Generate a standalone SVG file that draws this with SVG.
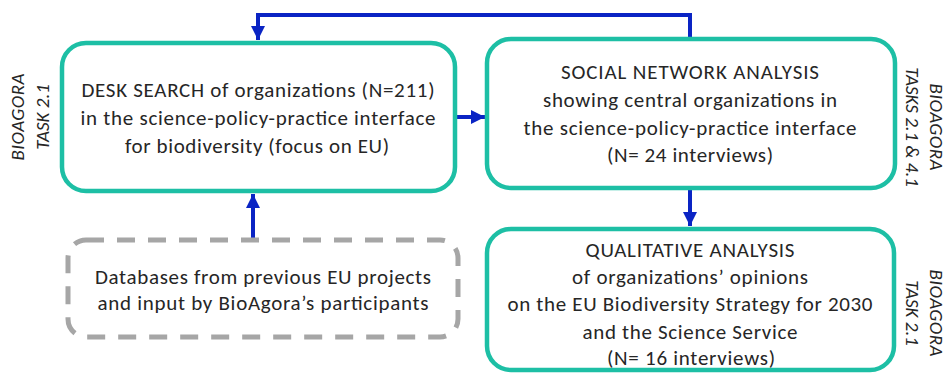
<svg xmlns="http://www.w3.org/2000/svg" width="950" height="376" viewBox="0 0 950 376">
<defs>
<style>
.box{fill:#fff;stroke:#1dbfa5;stroke-width:4.5}
.dash{fill:#fff;stroke:#a6a6a6;stroke-width:5;stroke-dasharray:18 13}
.t{font-family:Carlito,"Liberation Sans",Arial,sans-serif;font-size:21px;fill:#262626;text-anchor:middle}
.side{font-family:Carlito,"Liberation Sans",Arial,sans-serif;font-size:19px;font-style:italic;fill:#262626;text-anchor:middle}
.conn{fill:none;stroke:#0a24c4;stroke-width:4}
</style>
<marker id="ah" viewBox="0 0 10 10" refX="10" refY="5" markerWidth="3.6" markerHeight="3.6" orient="auto" markerUnits="strokeWidth">
<path d="M0,0 L10,5 L0,10 z" fill="#0a24c4"/>
</marker>
</defs>
<rect width="950" height="376" fill="#fff"/>
<g id="connectors">
<path class="conn" d="M690,40 V15 H258 V40" marker-end="url(#ah)"/>
<path class="conn" d="M456,117 H485" marker-end="url(#ah)"/>
<path class="conn" d="M690,188 V226" marker-end="url(#ah)"/>
<path class="conn" d="M253,238 V194" marker-end="url(#ah)"/>
</g>
<g id="desk">
<rect class="box" x="62" y="43" width="393" height="148" rx="24"/>
<text class="t" x="258" y="97" textLength="353">DESK SEARCH of organizations (N=211)</text>
<text class="t" x="258" y="125" textLength="355">in the science-policy-practice interface</text>
<text class="t" x="257" y="153" textLength="264">for biodiversity (focus on EU)</text>
</g>
<g id="sna">
<rect class="box" x="487" y="39" width="408" height="149" rx="24"/>
<text class="t" x="690" y="79" textLength="258">SOCIAL NETWORK ANALYSIS</text>
<text class="t" x="690" y="107" textLength="294">showing central organizations in</text>
<text class="t" x="690" y="135" textLength="333">the science-policy-practice interface</text>
<text class="t" x="690" y="162" textLength="166">(N= 24 interviews)</text>
</g>
<g id="qual">
<rect class="box" x="487" y="229" width="407" height="141" rx="24"/>
<text class="t" x="690" y="257" textLength="209">QUALITATIVE ANALYSIS</text>
<text class="t" x="690" y="284" textLength="236">of organizations’ opinions</text>
<text class="t" x="690" y="311" textLength="365">on the EU Biodiversity Strategy for 2030</text>
<text class="t" x="690" y="339" textLength="215">and the Science Service</text>
<text class="t" x="691" y="365" textLength="168">(N= 16 interviews)</text>
</g>
<g id="databases">
<rect class="dash" x="68" y="240" width="390" height="97" rx="18"/>
<text class="t" x="263" y="284" textLength="336">Databases from previous EU projects</text>
<text class="t" x="263" y="310" textLength="331">and input by BioAgora’s participants</text>
</g>
<g id="label-left">
<text class="side" transform="translate(24,117) rotate(-90)" textLength="87">BIOAGORA</text>
<text class="side" transform="translate(49,117) rotate(-90)">TASK 2.1</text>
</g>
<g id="label-right-top">
<text class="side" transform="translate(930,127) rotate(90)" textLength="87">BIOAGORA</text>
<text class="side" transform="translate(906,127) rotate(90)">TASKS 2.1 &amp; 4.1</text>
</g>
<g id="label-right-bottom">
<text class="side" transform="translate(930,313) rotate(90)" textLength="87">BIOAGORA</text>
<text class="side" transform="translate(906,313) rotate(90)">TASK 2.1</text>
</g>
</svg>
